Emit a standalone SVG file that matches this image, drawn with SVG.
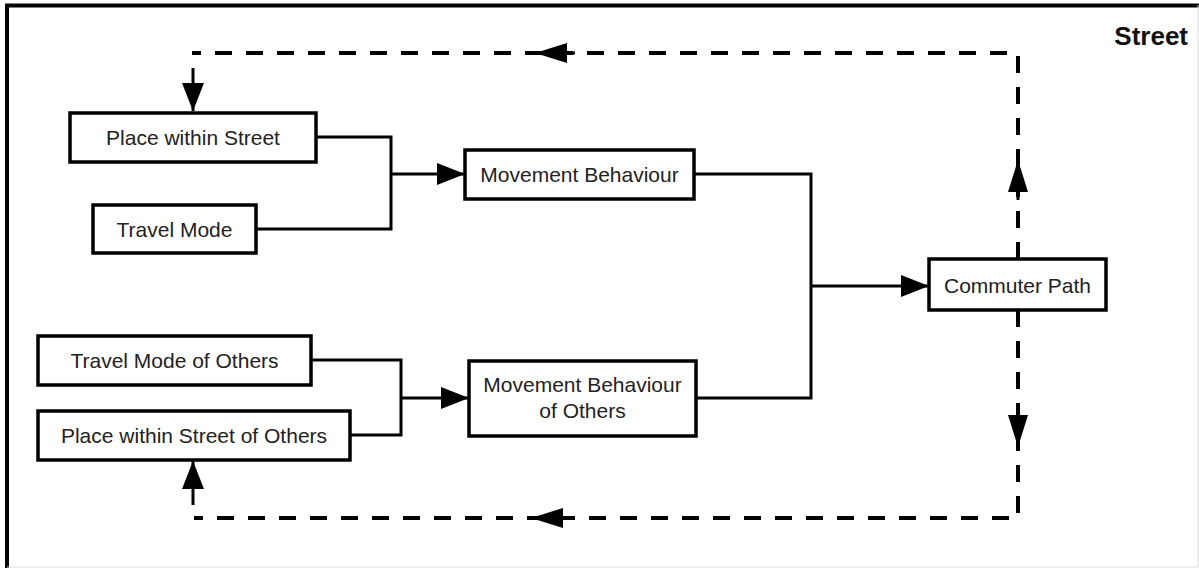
<svg xmlns="http://www.w3.org/2000/svg" width="1199" height="568" viewBox="0 0 1199 568">
<style>
.box{fill:#fff;stroke:#000;stroke-width:3.5}
.lbl{font-family:"Liberation Sans",Arial,sans-serif;font-size:21px;fill:#222;text-anchor:middle}
.solid{fill:none;stroke:#000;stroke-width:3}
.dash{fill:none;stroke:#000;stroke-width:4;stroke-dasharray:17 14}
</style>
<defs>
<marker id="ah" markerUnits="userSpaceOnUse" markerWidth="28" markerHeight="22" viewBox="0 0 28 22" refX="28" refY="11" orient="auto">
<path d="M0,0 L28,11 L0,22 z" fill="#000"/>
</marker>
<marker id="dh" markerUnits="userSpaceOnUse" markerWidth="32" markerHeight="20" viewBox="0 0 32 20" refX="32" refY="10" orient="auto">
<path d="M0,0 L32,10 L0,20 z" fill="#000"/>
</marker>
</defs>
<rect width="1199" height="568" fill="#fff"/>
<g id="frame">
<path d="M7 568 V5.5 H1199" fill="none" stroke="#000" stroke-width="4"/>
<path d="M1198 5 V567 H7" fill="none" stroke="#ddd" stroke-width="1"/>
<text x="1188" y="45" font-family="'Liberation Sans',Arial,sans-serif" font-size="26" font-weight="bold" text-anchor="end" fill="#111">Street</text>
</g>
<g id="connectors">
<path class="solid" d="M316 137 H391 V229 H256"/>
<path class="solid" d="M391 174 H465" marker-end="url(#ah)"/>
<path class="solid" d="M311 360 H401 V435 H350"/>
<path class="solid" d="M401 398 H469" marker-end="url(#ah)"/>
<path class="solid" d="M694 174 H811 V398 H696"/>
<path class="solid" d="M811 286 H929" marker-end="url(#ah)"/>
<path class="dash" d="M1018 259 V53 H192"/>
<path class="solid" d="M1018 200 V160" marker-end="url(#dh)"/>
<path class="solid" d="M575 53 H535" marker-end="url(#dh)"/>
<path class="solid" d="M193 68 V111" marker-end="url(#ah)"/>
<path class="dash" d="M1018 310 V518 H194"/>
<path class="solid" d="M1018 410 V447" marker-end="url(#dh)"/>
<path class="solid" d="M572 518 H531" marker-end="url(#dh)"/>
<path class="solid" d="M193 505 V461" marker-end="url(#ah)"/>
</g>
<g id="place-within-street">
<rect class="box" x="70" y="113" width="246" height="49"/>
<text class="lbl" x="193" y="145">Place within Street</text>
</g>
<g id="travel-mode">
<rect class="box" x="93" y="205" width="163" height="48"/>
<text class="lbl" x="174.5" y="237">Travel Mode</text>
</g>
<g id="movement-behaviour">
<rect class="box" x="465" y="150" width="229" height="49"/>
<text class="lbl" x="579.5" y="182">Movement Behaviour</text>
</g>
<g id="commuter-path">
<rect class="box" x="929" y="259" width="177" height="51"/>
<text class="lbl" x="1017.5" y="293">Commuter Path</text>
</g>
<g id="travel-mode-of-others">
<rect class="box" x="38" y="336" width="273" height="49"/>
<text class="lbl" x="174.5" y="368">Travel Mode of Others</text>
</g>
<g id="place-within-street-of-others">
<rect class="box" x="38" y="411" width="312" height="49"/>
<text class="lbl" x="194" y="443">Place within Street of Others</text>
</g>
<g id="movement-behaviour-of-others">
<rect class="box" x="469" y="361" width="227" height="75"/>
<text class="lbl" x="582.5" y="392">Movement Behaviour</text>
<text class="lbl" x="582.5" y="418">of Others</text>
</g>
</svg>
